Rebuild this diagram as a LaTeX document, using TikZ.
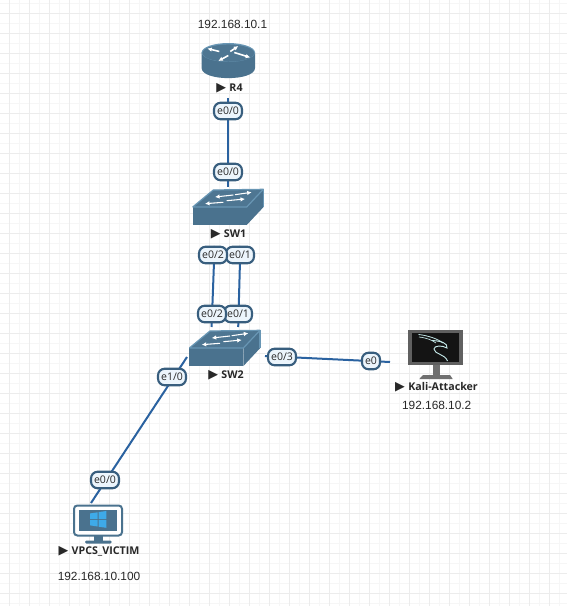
\documentclass[tikz,border=0pt]{standalone}
\usepackage{fontspec}
\setmainfont{Liberation Sans}
\setsansfont{Open Sans}
\newfontfamily\markfont{DejaVu Sans}
\usetikzlibrary{arrows.meta,positioning}
\definecolor{netgridmaj}{RGB}{236,236,236}
\definecolor{netgridmin}{RGB}{246,246,246}
\definecolor{netlink}{RGB}{42,98,160}
\definecolor{netedge}{RGB}{56,94,126}
\definecolor{netport}{RGB}{236,245,252}
\definecolor{netbody}{RGB}{74,114,142}
\definecolor{nettop}{RGB}{78,118,146}
\definecolor{netrim}{RGB}{104,150,180}
\definecolor{netink}{RGB}{40,40,40}
\definecolor{kaliframe}{RGB}{96,96,96}
\definecolor{kalistand}{RGB}{112,112,112}
\definecolor{kalidragon}{RGB}{196,232,232}
\definecolor{winblue}{RGB}{62,170,232}
\newcommand{\nametag}[1]{{\markfont\fontsize{9.5}{9}\selectfont\char"25B6}\hspace{2.5pt}#1}
\tikzset{
  gridmaj/.style={draw=netgridmaj, line width=0.75pt},
  gridmin/.style={draw=netgridmin, line width=0.75pt},
  link/.style={draw=netlink, line width=1.5pt},
  port/.style={
    draw=netedge, fill=netport, line width=1.6pt, rounded corners=5pt,
    font=\sffamily\fontsize{7.9}{9}\selectfont, text=netink,
    inner xsep=2.3pt, inner ysep=0pt, minimum height=12.4pt
  },
  devbox/.style={inner sep=0pt, outer sep=0pt},
  devname/.style={font=\sffamily\bfseries\fontsize{8}{9}\selectfont, text=netink, inner sep=0pt},
  addr/.style={font=\fontsize{8.9}{10}\selectfont, text=netink, inner sep=0pt},
  flow/.style={-{Latex[length=3.4pt,width=3.4pt]}, draw=white, line width=0.8pt},
  routericon/.pic={
    \fill[netbody] (-26.7,0) -- (-26.7,15.5) .. controls (-26.7,29) and (26.7,29) .. (26.7,15.5)
      -- (26.7,0) -- cycle;
    \fill[netrim] (0,0) ellipse [x radius=20pt, y radius=7.1pt];
    \fill[nettop] (0,0.6) ellipse [x radius=19.4pt, y radius=6.5pt];
    \draw[flow, line width=1.2pt] (-9,-1) -- (-21,-4);
    \draw[flow, line width=1.2pt] (2,-1) -- (10,-6.5);
    \draw[flow, line width=1.2pt] (6,0) -- (22,5);
    \draw[flow, line width=1.2pt] (0,3) -- (-10,8.5);
  },
  switchicon/.pic={
    \fill[nettop] (-14.7,-17) -- (35.3,-17.7) -- (18.7,0) -- (-35.3,0) -- cycle;
    \fill[netbody] (-35.3,0) rectangle (18.7,18);
    \fill[netbody] (18.7,0) -- (35.3,-17.7) -- (35.3,0.3) -- (18.7,18) -- cycle;
    \draw[netrim, line width=0.9pt, line join=round] (-35.3,0) -- (-14.7,-17) -- (35.3,-17.7) -- (18.7,0) -- (-35.3,0);
    \draw[netrim, line width=0.9pt, line join=round] (35.3,-17.7) -- (35.3,0.3);
    \draw[flow] (5.3,-12) -- (-13,-10);
    \draw[flow] (7,-12.3) -- (23.7,-14.7);
    \draw[flow] (-4.7,-4.7) -- (-23,-3.3);
    \draw[flow] (-1.3,-6.3) -- (17,-8);
  }
}

\begin{document}
\begin{tikzpicture}[x=0.75pt, y=-0.75pt]
  \useasboundingbox (0,0) rectangle (567,606);
  \fill[white] (0,0) rectangle (567,606);
  \foreach \gx in {19.5,39.5,...,560} \draw[gridmin] (\gx,0) -- (\gx,606);
  \foreach \gy in {3.5,23.5,...,606} \draw[gridmin] (0,\gy) -- (567,\gy);
  \foreach \gx in {9.5,29.5,...,560} \draw[gridmaj] (\gx,0) -- (\gx,606);
  \foreach \gy in {13.5,33.5,...,606} \draw[gridmaj] (0,\gy) -- (567,\gy);

  \node[devbox, minimum width=40.5pt, minimum height=41.25pt] (r4) at (228,70.5) {};
  \node[devbox, minimum width=53pt, minimum height=44.25pt] (sw1) at (228,216.5) {};
  \node[devbox, minimum width=57pt, minimum height=43.5pt] (sw2) at (227,356) {};
  \node[devbox, minimum width=66pt, minimum height=48pt] (kali) at (434,362) {};
  \node[devbox, minimum width=66pt, minimum height=36pt] (vpcs) at (98,527) {};
  \coordinate (sw1a) at (214.6,246);
  \coordinate (sw1b) at (240.4,246);
  \coordinate (sw2a) at (211.6,327);
  \coordinate (sw2b) at (238.2,327);
  \coordinate (sw2c) at (187,357);
  \coordinate (vpcsa) at (91,503);

  \draw[link] (r4.south) -- (sw1.north);
  \draw[link] (sw1a) -- (sw2a);
  \draw[link] (sw1b) -- (sw2b);
  \draw[link] (sw2.east) -- (kali.west);
  \draw[link] (sw2c) -- (vpcsa);

  \pic at (228.3,52.5) {routericon};
  \pic at (228,207) {switchicon};
  \pic at (224.7,348) {switchicon};

  \fill[kaliframe] (408.3,330) rectangle (462.7,365);
  \fill[black!92] (412,333.3) rectangle (459.3,361.7);
  \fill[kalistand] (432.7,365) rectangle (440,375);
  \fill[kalistand] (423,375) -- (450,375) -- (452.7,379) -- (419.3,379) -- cycle;
  \draw[kalidragon, line width=0.6pt] (418.5,334.5) .. controls (428,335.5) and (438,339) .. (443,343);
  \draw[kalidragon, line width=0.5pt] (419,337) .. controls (427,338) and (432,340) .. (436,343);
  \draw[kalidragon, line width=0.7pt] (432,340.5) .. controls (441,341) and (448,343) .. (447,348)
    .. controls (442,345) and (434,345.5) .. (434,349)
    .. controls (434,354) and (445,354) .. (447.5,361);

  \draw[netbody, fill=white, line width=1.5pt, rounded corners=2.5pt] (74,505.5) rectangle (122,535.5);
  \fill[netbody] (79.3,510) rectangle (117.3,531);
  \fill[netbody] (94,536) rectangle (103,541);
  \fill[netbody, rounded corners=1pt] (85,540.5) rectangle (111.7,543.5);
  \fill[winblue] (90.2,513.4) -- (97.6,512.3) -- (97.6,518.9) -- (90.2,518.9) -- cycle;
  \fill[winblue] (98.6,512.1) -- (106.3,511) -- (106.3,518.9) -- (98.6,518.9) -- cycle;
  \fill[winblue] (90.2,519.9) -- (97.6,519.9) -- (97.6,526.5) -- (90.2,525.4) -- cycle;
  \fill[winblue] (98.6,519.9) -- (106.3,519.9) -- (106.3,527.8) -- (98.6,526.7) -- cycle;

  \node[port] (r4p) at (228,111) {e0/0};
  \node[port] (sw1p) at (228,172) {e0/0};
  \node[port] (sw1q) at (240,255) {e0/1};
  \node[port] (sw1r) at (213,255) {e0/2};
  \node[port] (sw2q) at (238,314) {e0/1};
  \node[port] (sw2r) at (212,314) {e0/2};
  \node[port] (sw2s) at (282,357) {e0/3};
  \node[port] (sw2t) at (172,377) {e1/0};
  \node[port] (kalip) at (371,361) {e0};
  \node[port] (vpcsp) at (105,480) {e0/0};

  \node[addr] (r4ip) at (232.5,24) {192.168.10.1};
  \node[devname] (r4name) at (229.5,88) {\nametag{R4}};
  \node[devname] (sw1name) at (228.5,234) {\nametag{SW1}};
  \node[devname] (sw2name) at (226,375) {\nametag{SW2}};
  \node[devname] (kaliname) at (436.5,387) {\nametag{Kali-Attacker}};
  \node[addr] (kaliip) at (436.7,405) {192.168.10.2};
  \node[devname] (vpcsname) at (99,551) {\nametag{VPCS\_VICTIM}};
  \node[addr] (vpcsip) at (99,576) {192.168.10.100};
\end{tikzpicture}
\end{document}
